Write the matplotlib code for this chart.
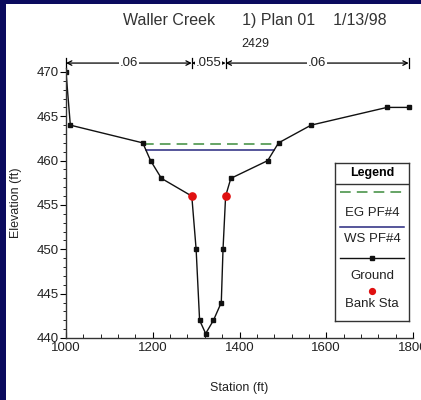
import matplotlib
matplotlib.use("Agg")
import matplotlib.pyplot as plt
import numpy as np

plt.rcParams['font.family'] = ['Liberation Sans Narrow', 'Liberation Sans', 'DejaVu Sans']

# ground profile (station ft, elevation ft)
ground_sta = [1000, 1010, 1177, 1195, 1220, 1290, 1300, 1308, 1322, 1340, 1358, 1362,
              1368, 1380, 1465, 1490, 1565, 1740, 1790]
ground_elev = [470, 464, 462, 460, 458, 456, 450, 442, 440.5, 442, 444, 450,
               456, 458, 460, 462, 464, 466, 466]
bank_sta = [1290, 1368]
bank_elev = [456, 456]
eg_elev = 461.9
ws_elev = 461.2
n_values = ['.06', '.055', '.06']
n_bounds = [1000, 1290, 1368, 1790]

W, H = 421, 400
fig = plt.figure(figsize=(W / 100, H / 100), dpi=100)
fig.patch.set_facecolor('#0b0b5e')
# white slide area
fig.patches.append(plt.Rectangle((6 / W, 0), 1, 1 - 4 / H, transform=fig.transFigure,
                                 facecolor='white', edgecolor='none', zorder=-10))

ax = fig.add_axes([66 / W, 62 / H, (413 - 66) / W, (338 - 67.5) / H])
ax.set_facecolor('none')


def crossing(level, side):
    # station where the water level meets the ground on one side of the channel
    sta = np.array(ground_sta, dtype=float)
    el = np.array(ground_elev, dtype=float)
    low = int(np.argmin(el))
    if side == 'left':
        s, e = sta[:low + 1][::-1], el[:low + 1][::-1]
    else:
        s, e = sta[low:], el[low:]
    i = int(np.argmax(e >= level))
    return np.interp(level, [e[i - 1], e[i]], [s[i - 1], s[i]])


ax.plot([crossing(eg_elev, 'left'), crossing(eg_elev, 'right')], [eg_elev, eg_elev],
        color='#3c8c3c', lw=1.1, dashes=(7, 4))
ax.plot([crossing(ws_elev, 'left'), crossing(ws_elev, 'right')], [ws_elev, ws_elev],
        color='#27277f', lw=1.1)
ax.plot(ground_sta, ground_elev, color='#111111', lw=1.0, marker='s', ms=3.5)
ax.plot(bank_sta, bank_elev, 'o', color='#e01010', ms=5.2, zorder=5)

ax.set_xlim(1000, 1800)
ax.set_ylim(440, 470.5)
ax.set_xticks([1000, 1200, 1400, 1600, 1800])
ax.set_xticks(np.arange(1000, 1801, 40), minor=True)
ax.set_yticks([440, 445, 450, 455, 460, 465, 470])
ax.set_yticks(np.arange(440, 471, 1), minor=True)
for s in ['top', 'right']:
    ax.spines[s].set_visible(False)
for s in ['left', 'bottom']:
    ax.spines[s].set_linewidth(1.0)
    ax.spines[s].set_color('#333333')
ax.tick_params(axis='x', which='major', direction='in', length=4, labelsize=9.5, pad=3,
               labelcolor='#222222')
ax.tick_params(axis='x', which='minor', direction='in', length=3)
ax.tick_params(axis='y', which='major', direction='out', length=4, labelsize=9.5, pad=1,
               labelcolor='#222222')
ax.tick_params(axis='y', which='minor', direction='out', length=2.5)
ax.set_xlabel('Station (ft)', fontsize=9, labelpad=20, color='#222222')
ax.set_ylabel('Elevation (ft)', fontsize=9, labelpad=11, color='#222222')

# Manning's n bar above the plot
ny = 471.0
for b in n_bounds:
    ax.plot([b, b], [ny - 0.6, ny + 0.6], color='black', lw=0.9, clip_on=False)
for i, n in enumerate(n_values):
    a, b = n_bounds[i], n_bounds[i + 1]
    ax.annotate('', xy=(a, ny), xytext=(b, ny), xycoords='data', annotation_clip=False,
                arrowprops=dict(arrowstyle='<->', lw=0.9, color='black',
                                shrinkA=0, shrinkB=0, mutation_scale=8))
    ax.text((a + b) / 2, ny, n, ha='center', va='center', fontsize=9.5, clip_on=False,
            color='#222222', bbox=dict(facecolor='white', edgecolor='none', pad=0.5))

fig.text(255 / W, 1 - 20 / H, 'Waller Creek      1) Plan 01    1/13/98',
         ha='center', va='center', fontsize=11.5, color='#333333')
fig.text(255 / W, 1 - 44 / H, '2429', ha='center', va='center', fontsize=9,
         color='#222222')

# legend box
lg = fig.add_axes([335 / W, (H - 321) / H, 74 / W, 158 / H])
lg.set_xlim(0, 1)
lg.set_ylim(0, 1)
lg.set_xticks([])
lg.set_yticks([])
for s in lg.spines.values():
    s.set_linewidth(1.0)
    s.set_color('#333333')
lg.text(0.5, 0.935, 'Legend', ha='center', va='center', fontsize=9, fontweight='bold')
lg.plot([0, 1], [0.867, 0.867], color='#333333', lw=1.0)
lg.plot([0.07, 0.93], [0.816, 0.816], color='#3c8c3c', lw=1.1, dashes=(7, 4))
lg.text(0.5, 0.684, 'EG PF#4', ha='center', va='center', fontsize=9.5, color='#222222')
lg.plot([0.07, 0.93], [0.595, 0.595], color='#27277f', lw=1.1)
lg.text(0.5, 0.519, 'WS PF#4', ha='center', va='center', fontsize=9.5, color='#222222')
lg.plot([0.07, 0.93], [0.399, 0.399], color='#111111', lw=1.0)
lg.plot([0.5], [0.399], 's', color='#111111', ms=3.5)
lg.text(0.5, 0.285, 'Ground', ha='center', va='center', fontsize=9.5, color='#222222')
lg.plot([0.5], [0.19], 'o', color='#e01010', ms=4.2)
lg.text(0.5, 0.108, 'Bank Sta', ha='center', va='center', fontsize=9.5, color='#222222')

fig.savefig('out.png', dpi=100, facecolor=fig.get_facecolor())
